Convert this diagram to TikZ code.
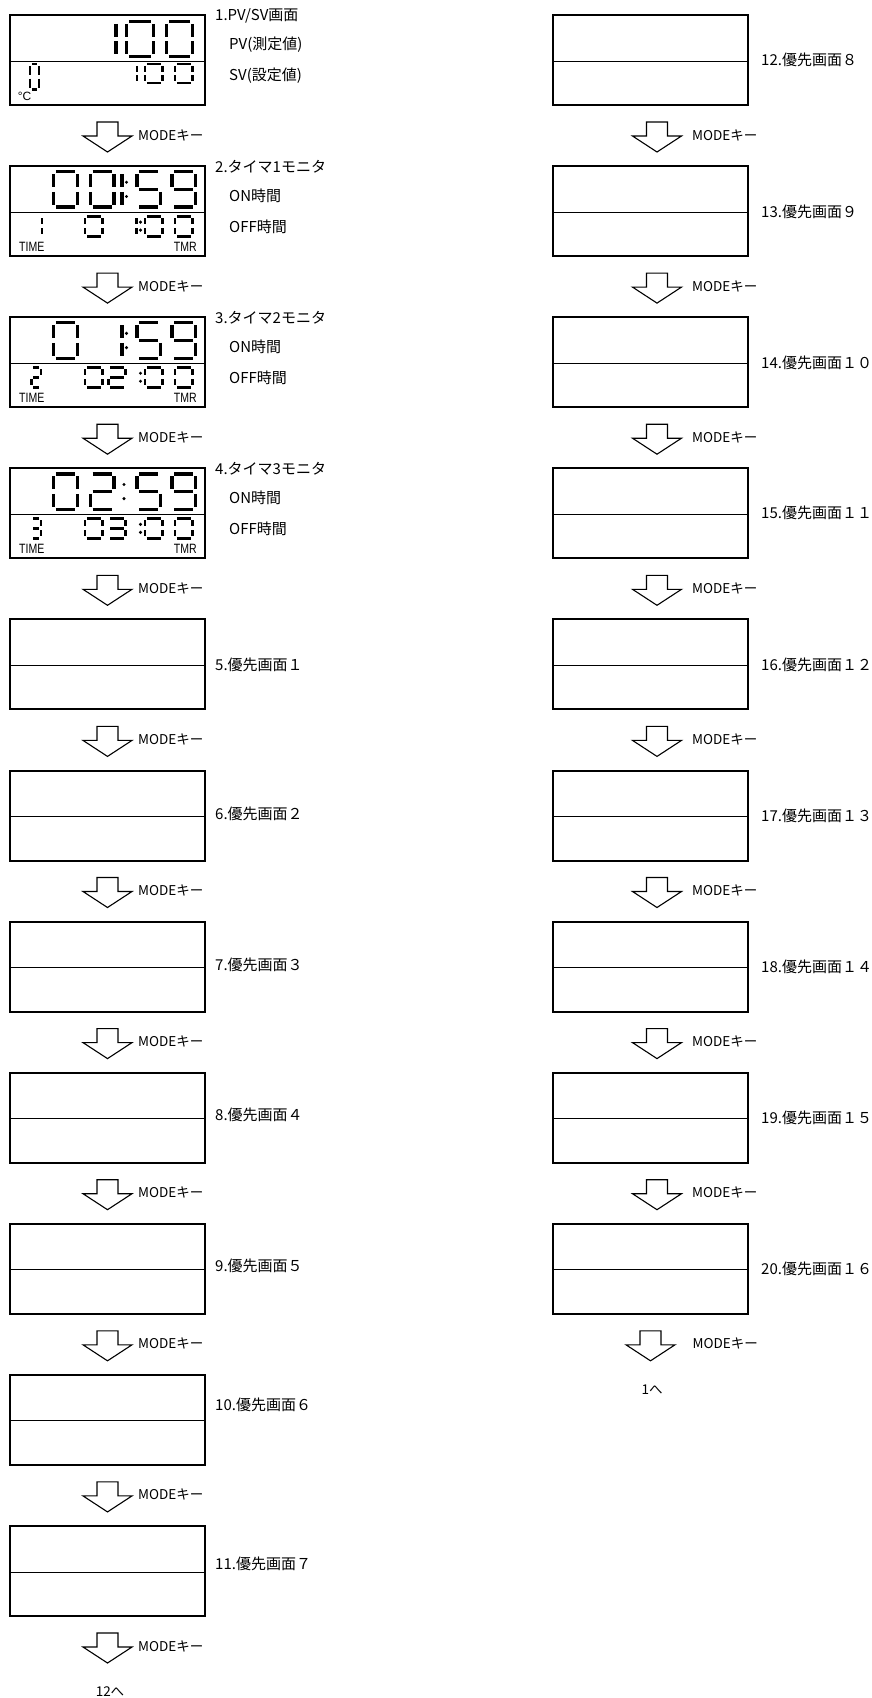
\documentclass[tikz,border=0pt]{standalone}
\usepackage{fontspec}
\usepackage{graphicx}
\setmainfont{Noto Sans CJK JP}
\newfontfamily\lcdfont{Liberation Sans}

\tikzset{
  lcdbox/.style={draw, rectangle, line width=2pt, minimum width=195pt, minimum height=90pt, inner sep=0pt},
  divline/.style={line width=1pt},
  seg/.style={line width=\dgt pt, line cap=butt},
  lbl/.style={anchor=west, inner sep=0pt, font=\fontsize{15}{15}\selectfont},
  keyarrow/.style={draw, line width=1.1pt, line join=miter},
  keytext/.style={anchor=west, inner sep=0pt, font=\fontsize{13.5}{13.5}\selectfont},
  endtext/.style={inner sep=0pt, font=\fontsize{13.5}{13.5}\selectfont},
  tagtext/.style={inner sep=0pt, font=\lcdfont\fontsize{13.5}{13.5}\selectfont},
}

% seven segment digit
\newcommand{\segA}{\draw[seg] (\dgx+\dgg,\dgy) -- (\dgx+\dgw-\dgg,\dgy);}
\newcommand{\segB}{\draw[seg] (\dgx+\dgw,\dgy+\dgg) -- (\dgx+\dgw,\dgy+\dgh/2-\dgg);}
\newcommand{\segC}{\draw[seg] (\dgx+\dgw,\dgy+\dgh/2+\dgg) -- (\dgx+\dgw,\dgy+\dgh-\dgg);}
\newcommand{\segD}{\draw[seg] (\dgx+\dgg,\dgy+\dgh) -- (\dgx+\dgw-\dgg,\dgy+\dgh);}
\newcommand{\segE}{\draw[seg] (\dgx,\dgy+\dgh/2+\dgg) -- (\dgx,\dgy+\dgh-\dgg);}
\newcommand{\segF}{\draw[seg] (\dgx,\dgy+\dgg) -- (\dgx,\dgy+\dgh/2-\dgg);}
\newcommand{\segG}{\draw[seg] (\dgx+\dgg,\dgy+\dgh/2) -- (\dgx+\dgw-\dgg,\dgy+\dgh/2);}
\newcommand{\lcd}[5]{%
  \def\dgx{#1}\def\dgy{#2}\def\dgw{#3}\def\dgh{#4}%
  \ifcase#5\relax \segA\segB\segC\segD\segE\segF
  \or \segB\segC
  \or \segA\segB\segG\segE\segD
  \or \segA\segB\segG\segC\segD
  \or \segF\segG\segB\segC
  \or \segA\segF\segG\segC\segD
  \or \segA\segF\segG\segE\segC\segD
  \or \segA\segB\segC
  \or \segA\segB\segC\segD\segE\segF\segG
  \or \segA\segB\segC\segD\segF\segG
  \fi}
\newcommand{\lcdcolon}[3]{\fill (#1,#2+0.3*#3) circle (1.7pt); \fill (#1,#2+0.7*#3) circle (1.7pt);}
\newcommand{\bigdigits}{\def\dgt{3.4}\def\dgg{2.4}}
\newcommand{\smalldigits}{\def\dgt{2.8}\def\dgg{1.9}}

% screen box with its divider
\newcommand{\screen}[3]{%
  \node[lcdbox] (#1) at (#2,#3) {};
  \draw[divline] ([yshift=-1pt]#1.west) -- ([yshift=-1pt]#1.east);}

% MODE key arrow below a screen: node, arrow shift, text offset
\newcommand{\modekey}[3]{%
  \draw[keyarrow] ([shift={(#2-10.5,16)}]#1.south) -- ++(21,0) -- ++(0,14) -- ++(14,0)
    -- ++(-24.5,16) -- ++(-24.5,-16) -- ++(14,0) -- cycle;
  \node[keytext] (k#1) at ([shift={(#2+#3,29)}]#1.south) {MODEキー};}

\begin{document}
\begin{tikzpicture}[x=1pt, y=-1pt]
\useasboundingbox (0,0) rectangle (871,1698);

% left column
\screen{s1}{107.5}{60}
\screen{s2}{107.5}{211.1}
\screen{s3}{107.5}{362.2}
\screen{s4}{107.5}{513.3}
\screen{s5}{107.5}{664.4}
\screen{s6}{107.5}{815.5}
\screen{s7}{107.5}{966.6}
\screen{s8}{107.5}{1117.7}
\screen{s9}{107.5}{1268.8}
\screen{s10}{107.5}{1419.9}
\screen{s11}{107.5}{1571}

% right column
\screen{s12}{650.5}{60}
\screen{s13}{650.5}{211.1}
\screen{s14}{650.5}{362.2}
\screen{s15}{650.5}{513.3}
\screen{s16}{650.5}{664.4}
\screen{s17}{650.5}{815.5}
\screen{s18}{650.5}{966.6}
\screen{s19}{650.5}{1117.7}
\screen{s20}{650.5}{1268.8}

% display 1
\begin{scope}[shift={(s1.north west)}]
  \bigdigits
  \lcd{107}{7.5}{0}{35}{1}
  \lcd{117.5}{7.5}{27}{35}{0}
  \lcd{157.5}{7.5}{26}{35}{0}
  \smalldigits
  \lcd{21}{50}{9}{25.5}{0}
  \lcd{128}{50}{0}{19}{1}
  \lcd{136}{50}{17.5}{19}{0}
  \lcd{166}{50}{17.5}{19}{0}
\end{scope}
\node[inner sep=0pt, font=\lcdfont\fontsize{12}{12}\selectfont] (deg1) at ([shift={(15.5,36)}]s1.west) {°C};

% display 2
\begin{scope}[shift={(s2.north west)}]
  \bigdigits
  \lcd{44.5}{6.5}{23.7}{35.5}{0}
  \lcd{81.2}{6.5}{23.7}{35.5}{0}
  \lcd{113}{6.5}{0}{35.5}{1}
  \lcdcolon{117.5}{6.5}{35.5}
  \lcd{127.8}{6.5}{23.7}{35.5}{5}
  \lcd{162.8}{6.5}{23.7}{35.5}{9}
  \smalldigits
  \lcd{23}{51}{10}{20}{1}
  \lcd{76}{51}{17.5}{20}{0}
  \lcd{127.5}{51}{0}{20}{1}
  \lcdcolon{131.5}{51}{20}
  \lcd{136}{51}{17.5}{20}{0}
  \lcd{166}{51}{17.5}{20}{0}
\end{scope}

% display 3
\begin{scope}[shift={(s3.north west)}]
  \bigdigits
  \lcd{44.5}{6.5}{23.7}{35.5}{0}
  \lcd{113}{6.5}{0}{35.5}{1}
  \lcdcolon{117.5}{6.5}{35.5}
  \lcd{127.8}{6.5}{23.7}{35.5}{5}
  \lcd{162.8}{6.5}{23.7}{35.5}{9}
  \smalldigits
  \lcd{22.5}{51}{9.5}{20}{2}
  \lcd{76}{51}{17.5}{20}{0}
  \lcd{99.3}{51}{17.5}{20}{2}
  \lcdcolon{131.5}{51}{20}
  \lcd{136}{51}{17.5}{20}{0}
  \lcd{166}{51}{17.5}{20}{0}
\end{scope}

% display 4
\begin{scope}[shift={(s4.north west)}]
  \bigdigits
  \lcd{44.5}{6.5}{23.7}{35.5}{0}
  \lcd{81.2}{6.5}{23.7}{35.5}{2}
  \lcdcolon{115}{6.5}{35.5}
  \lcd{127.8}{6.5}{23.7}{35.5}{5}
  \lcd{162.8}{6.5}{23.7}{35.5}{9}
  \smalldigits
  \lcd{22.5}{51}{9.5}{20}{3}
  \lcd{76}{51}{17.5}{20}{0}
  \lcd{99.3}{51}{17.5}{20}{3}
  \lcdcolon{131.5}{51}{20}
  \lcd{136}{51}{17.5}{20}{0}
  \lcd{166}{51}{17.5}{20}{0}
\end{scope}

\foreach \n in {2,3,4} {
  \node[tagtext, anchor=west] (time\n) at ([shift={(10,36)}]s\n.west) {\scalebox{0.78}[1]{TIME}};
  \node[tagtext, anchor=east] (tmr\n) at ([shift={(-9,36)}]s\n.east) {\scalebox{0.78}[1]{TMR}};
}

% labels
\node[lbl] (l1) at ([shift={(9,-44.5)}]s1.east) {1.PV/SV画面};
\node[lbl] (l1a) at ([shift={(23,-15.5)}]s1.east) {PV(測定値)};
\node[lbl] (l1b) at ([shift={(23,15.5)}]s1.east) {SV(設定値)};
\node[lbl] (l2) at ([shift={(9,-44.5)}]s2.east) {2.タイマ1モニタ};
\node[lbl] (l2a) at ([shift={(23,-15.5)}]s2.east) {ON時間};
\node[lbl] (l2b) at ([shift={(23,15.5)}]s2.east) {OFF時間};
\node[lbl] (l3) at ([shift={(9,-44.5)}]s3.east) {3.タイマ2モニタ};
\node[lbl] (l3a) at ([shift={(23,-15.5)}]s3.east) {ON時間};
\node[lbl] (l3b) at ([shift={(23,15.5)}]s3.east) {OFF時間};
\node[lbl] (l4) at ([shift={(9,-44.5)}]s4.east) {4.タイマ3モニタ};
\node[lbl] (l4a) at ([shift={(23,-15.5)}]s4.east) {ON時間};
\node[lbl] (l4b) at ([shift={(23,15.5)}]s4.east) {OFF時間};
\node[lbl] (l5) at ([shift={(9,0)}]s5.east) {5.優先画面１};
\node[lbl] (l6) at ([shift={(9,-2)}]s6.east) {6.優先画面２};
\node[lbl] (l7) at ([shift={(9,-2)}]s7.east) {7.優先画面３};
\node[lbl] (l8) at ([shift={(9,-3)}]s8.east) {8.優先画面４};
\node[lbl] (l9) at ([shift={(9,-3)}]s9.east) {9.優先画面５};
\node[lbl] (l10) at ([shift={(9,-15)}]s10.east) {10.優先画面６};
\node[lbl] (l11) at ([shift={(9,-7)}]s11.east) {11.優先画面７};
\node[lbl] (l12) at ([shift={(12,0)}]s12.east) {12.優先画面８};
\node[lbl] (l13) at ([shift={(12,1)}]s13.east) {13.優先画面９};
\node[lbl] (l14) at ([shift={(12,1)}]s14.east) {14.優先画面１０};
\node[lbl] (l15) at ([shift={(12,0)}]s15.east) {15.優先画面１１};
\node[lbl] (l16) at ([shift={(12,0)}]s16.east) {16.優先画面１２};
\node[lbl] (l17) at ([shift={(12,0)}]s17.east) {17.優先画面１３};
\node[lbl] (l18) at ([shift={(12,0)}]s18.east) {18.優先画面１４};
\node[lbl] (l19) at ([shift={(12,0)}]s19.east) {19.優先画面１５};
\node[lbl] (l20) at ([shift={(12,0)}]s20.east) {20.優先画面１６};

% MODE key steps
\modekey{s1}{0}{30.5}
\modekey{s2}{0}{30.5}
\modekey{s3}{0}{30.5}
\modekey{s4}{0}{30.5}
\modekey{s5}{0}{30.5}
\modekey{s6}{0}{30.5}
\modekey{s7}{0}{30.5}
\modekey{s8}{0}{30.5}
\modekey{s9}{0}{30.5}
\modekey{s10}{0}{30.5}
\modekey{s11}{0}{30.5}
\modekey{s12}{6.5}{35}
\modekey{s13}{6.5}{35}
\modekey{s14}{6.5}{35}
\modekey{s15}{6.5}{35}
\modekey{s16}{6.5}{35}
\modekey{s17}{6.5}{35}
\modekey{s18}{6.5}{35}
\modekey{s19}{6.5}{35}
\modekey{s20}{0}{42}

\node[endtext] (to12) at ([shift={(2.5,75)}]s11.south) {12へ};
\node[endtext] (to1) at ([shift={(1.5,75)}]s20.south) {1へ};
\end{tikzpicture}
\end{document}
